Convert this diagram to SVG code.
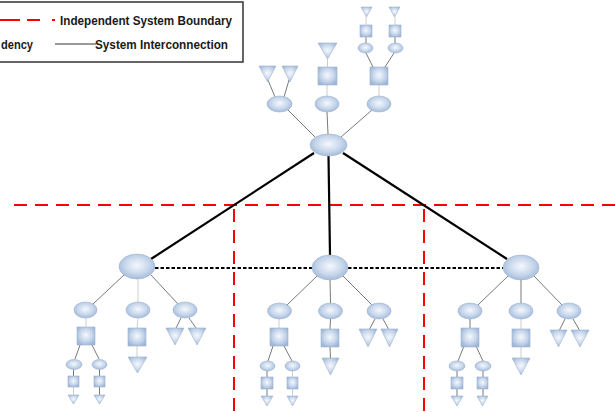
<svg xmlns="http://www.w3.org/2000/svg" width="615" height="412" viewBox="0 0 615 412">
<style>
.n{fill:url(#g);stroke:#9fb3cf;stroke-width:0.6}
.c{stroke:#6a6a6a;stroke-width:0.9;fill:none}
.cl{stroke:#c8c8c8;stroke-width:0.9;fill:none}
.thick{stroke:#000;stroke-width:2.2;fill:none}
.dot{stroke:#000;stroke-width:2.2;stroke-dasharray:3.5 2;fill:none}
.red{stroke:#ff0000;stroke-width:2;stroke-dasharray:13 8;fill:none}
.t{font-family:"Liberation Sans",Arial,sans-serif;font-weight:bold;font-size:12px;fill:#1a1a1a}
</style>
<defs>
<radialGradient id="g" cx="50%" cy="45%" r="60%">
<stop offset="0" stop-color="#f5f8fd"/>
<stop offset="0.55" stop-color="#c9d8ec"/>
<stop offset="1" stop-color="#9db5d7"/>
</radialGradient>
</defs>
<rect width="615" height="412" fill="#fff"/>

<g id="legend">
<rect x="-10" y="2" width="253" height="60" fill="#fff" stroke="#333" stroke-width="1.5"/>
<path d="M0 20H20M27 20H40M52 20H55" stroke="#ff0000" stroke-width="2" fill="none"/>
<text class="t" x="60" y="25" textLength="172" lengthAdjust="spacingAndGlyphs">Independent System Boundary</text>
<text class="t" x="1" y="49" textLength="32" lengthAdjust="spacingAndGlyphs">dency</text>
<line x1="55" y1="44" x2="96" y2="44" stroke="#333" stroke-width="1"/>
<text class="t" x="95" y="49" textLength="133" lengthAdjust="spacingAndGlyphs">System Interconnection</text>
</g>

<g id="boundaries">
<line class="red" x1="14" y1="205" x2="615" y2="205"/>
<line class="red" x1="234" y1="209" x2="234" y2="412"/>
<line class="red" x1="424" y1="209" x2="424" y2="412"/>
</g>

<g id="connectors">
<line class="thick" x1="314" y1="153" x2="151" y2="259"/>
<line class="thick" x1="328.5" y1="156" x2="330" y2="255"/>
<line class="thick" x1="343" y1="153" x2="507" y2="259"/>
<line class="dot" x1="155" y1="268" x2="312" y2="268"/>
<line class="dot" x1="348" y1="268" x2="503" y2="268"/>
<line class="c" x1="315" y1="137" x2="288" y2="110"/>
<line class="c" x1="328" y1="134" x2="327" y2="112"/>
<line class="c" x1="341" y1="137" x2="372" y2="110"/>
<line class="c" x1="275" y1="97" x2="268" y2="80"/>
<line class="c" x1="284" y1="97" x2="289" y2="80"/>
<line class="cl" x1="327" y1="96" x2="327" y2="85"/>
<line class="cl" x1="327.5" y1="67" x2="327.5" y2="59"/>
<line class="cl" x1="379" y1="96" x2="379" y2="85"/>
<line class="c" x1="373" y1="67" x2="366" y2="53"/>
<line class="c" x1="385" y1="67" x2="394" y2="53"/>
<line class="c" x1="366" y1="43" x2="366" y2="37"/>
<line class="c" x1="395" y1="43" x2="395" y2="37"/>
<line class="cl" x1="366" y1="25" x2="366" y2="17"/>
<line class="cl" x1="395" y1="25" x2="395" y2="17"/>
<line class="c" x1="124" y1="275" x2="93" y2="304"/>
<line class="cl" x1="138" y1="279" x2="138" y2="302"/>
<line class="c" x1="151" y1="275" x2="178" y2="304"/>
<line class="cl" x1="86" y1="318" x2="86" y2="327"/>
<line class="c" x1="80" y1="345" x2="75" y2="359"/>
<line class="c" x1="92" y1="345" x2="99" y2="359"/>
<line class="c" x1="73.5" y1="369" x2="73.5" y2="376"/>
<line class="c" x1="99.5" y1="369" x2="99.5" y2="376"/>
<line class="cl" x1="73.5" y1="387" x2="73.5" y2="395"/>
<line class="c" x1="99.5" y1="387" x2="99.5" y2="395"/>
<line class="cl" x1="138" y1="318" x2="137" y2="328"/>
<line class="cl" x1="137" y1="346" x2="137" y2="357"/>
<line class="c" x1="181" y1="318" x2="176" y2="328"/>
<line class="c" x1="189" y1="318" x2="196" y2="328"/>
<line class="c" x1="317" y1="276" x2="287" y2="305"/>
<line class="c" x1="330" y1="280" x2="330.5" y2="303"/>
<line class="c" x1="343" y1="276" x2="372" y2="305"/>
<line class="cl" x1="279" y1="319" x2="279" y2="328"/>
<line class="c" x1="273" y1="346" x2="268" y2="361"/>
<line class="c" x1="284" y1="346" x2="292" y2="361"/>
<line class="c" x1="267" y1="371" x2="267" y2="377"/>
<line class="cl" x1="292.5" y1="371" x2="292.5" y2="377"/>
<line class="c" x1="267" y1="389" x2="267" y2="396"/>
<line class="cl" x1="292.5" y1="389" x2="292.5" y2="396"/>
<line class="c" x1="330.5" y1="319" x2="330" y2="329"/>
<line class="c" x1="330" y1="347" x2="330.5" y2="358"/>
<line class="c" x1="375" y1="319" x2="369" y2="330"/>
<line class="c" x1="383" y1="319" x2="389" y2="330"/>
<line class="c" x1="508" y1="276" x2="478" y2="305"/>
<line class="c" x1="521" y1="280" x2="521" y2="303"/>
<line class="c" x1="534" y1="276" x2="562" y2="305"/>
<line class="c" x1="470" y1="319" x2="470" y2="328"/>
<line class="c" x1="464" y1="346" x2="458" y2="361"/>
<line class="c" x1="476" y1="346" x2="483" y2="361"/>
<line class="c" x1="457" y1="371" x2="457" y2="377"/>
<line class="c" x1="483" y1="371" x2="483" y2="377"/>
<line class="c" x1="457" y1="389" x2="457" y2="396"/>
<line class="c" x1="483" y1="389" x2="483" y2="396"/>
<line class="cl" x1="521" y1="319" x2="521" y2="329"/>
<line class="cl" x1="521" y1="347" x2="521" y2="358"/>
<line class="c" x1="565" y1="319" x2="559" y2="331"/>
<line class="c" x1="573" y1="319" x2="580" y2="331"/>
</g>

<g id="top-node"><ellipse class="n" cx="328.5" cy="145" rx="18.5" ry="11"/></g>

<g id="upper-left"><ellipse class="n" cx="279.5" cy="104" rx="12.5" ry="8"/></g>
<g id="upper-left-t1"><polygon class="n" points="259,66 276,66 267.5,82"/></g>
<g id="upper-left-t2"><polygon class="n" points="282,66 298,66 290,82"/></g>
<g id="upper-mid"><ellipse class="n" cx="327" cy="104" rx="12" ry="8"/></g>
<g id="upper-mid-sq"><rect class="n" x="318" y="67" width="19" height="18"/></g>
<g id="upper-mid-t"><polygon class="n" points="318,43 337,43 327.5,59"/></g>
<g id="upper-right"><ellipse class="n" cx="379" cy="104" rx="12" ry="8"/></g>
<g id="upper-right-sq"><rect class="n" x="370" y="67" width="18" height="18"/></g>
<g id="upper-right-e1"><ellipse class="n" cx="365.5" cy="48" rx="7.5" ry="5"/></g>
<g id="upper-right-e2"><ellipse class="n" cx="395.5" cy="48" rx="7.5" ry="5"/></g>
<g id="upper-right-s1"><rect class="n" x="360" y="25" width="12" height="12"/></g>
<g id="upper-right-s2"><rect class="n" x="389" y="25" width="12" height="12"/></g>
<g id="upper-right-t1"><polygon class="n" points="361,7 372,7 366.5,17"/></g>
<g id="upper-right-t2"><polygon class="n" points="389,7 400,7 394.5,17"/></g>

<g id="L"><ellipse class="n" cx="137" cy="266.5" rx="18" ry="12.5"/></g>
<g id="L1"><ellipse class="n" cx="85.5" cy="310" rx="11.5" ry="8"/></g>
<g id="L2"><ellipse class="n" cx="138" cy="310" rx="12" ry="8"/></g>
<g id="L3"><ellipse class="n" cx="185" cy="310" rx="12" ry="8"/></g>
<g id="L1-sq"><rect class="n" x="77" y="327" width="18" height="18"/></g>
<g id="L1-e1"><ellipse class="n" cx="74" cy="364.5" rx="8" ry="5"/></g>
<g id="L1-e2"><ellipse class="n" cx="99.5" cy="364.5" rx="7.5" ry="5"/></g>
<g id="L1-s1"><rect class="n" x="68" y="376" width="11" height="11"/></g>
<g id="L1-s2"><rect class="n" x="94" y="376" width="11" height="11"/></g>
<g id="L1-t1"><polygon class="n" points="68,395 79,395 73.5,404"/></g>
<g id="L1-t2"><polygon class="n" points="94,395 105,395 99.5,404"/></g>
<g id="L2-sq"><rect class="n" x="128" y="328" width="18" height="18"/></g>
<g id="L2-t"><polygon class="n" points="128,357 147,357 137.5,373"/></g>
<g id="L3-t1"><polygon class="n" points="166,328 184,328 175,345"/></g>
<g id="L3-t2"><polygon class="n" points="188,328 206,328 197,345"/></g>

<g id="M"><ellipse class="n" cx="330" cy="267.5" rx="18" ry="12.5"/></g>
<g id="M1"><ellipse class="n" cx="279.5" cy="311" rx="12" ry="8"/></g>
<g id="M2"><ellipse class="n" cx="330.5" cy="311" rx="12" ry="8"/></g>
<g id="M3"><ellipse class="n" cx="379" cy="311" rx="12" ry="8"/></g>
<g id="M1-sq"><rect class="n" x="270" y="328" width="18" height="18"/></g>
<g id="M1-e1"><ellipse class="n" cx="267.5" cy="366" rx="7.5" ry="5"/></g>
<g id="M1-e2"><ellipse class="n" cx="292.5" cy="366" rx="7.5" ry="5"/></g>
<g id="M1-s1"><rect class="n" x="261" y="377" width="12" height="12"/></g>
<g id="M1-s2"><rect class="n" x="287" y="377" width="11" height="12"/></g>
<g id="M1-t1"><polygon class="n" points="261,396 273,396 267,406"/></g>
<g id="M1-t2"><polygon class="n" points="287,396 298,396 292.5,406"/></g>
<g id="M2-sq"><rect class="n" x="321" y="329" width="18" height="18"/></g>
<g id="M2-t"><polygon class="n" points="322,358 339,358 330.5,375"/></g>
<g id="M3-t1"><polygon class="n" points="359,329 377,329 368,347"/></g>
<g id="M3-t2"><polygon class="n" points="381,329 398,329 389.5,347"/></g>

<g id="R"><ellipse class="n" cx="521" cy="267.5" rx="18" ry="12.5"/></g>
<g id="R1"><ellipse class="n" cx="470" cy="311" rx="12" ry="8"/></g>
<g id="R2"><ellipse class="n" cx="521" cy="311" rx="12" ry="8"/></g>
<g id="R3"><ellipse class="n" cx="569" cy="311" rx="12" ry="8"/></g>
<g id="R1-sq"><rect class="n" x="461" y="328" width="18" height="19"/></g>
<g id="R1-e1"><ellipse class="n" cx="457" cy="366" rx="8" ry="5"/></g>
<g id="R1-e2"><ellipse class="n" cx="483" cy="366" rx="8" ry="5"/></g>
<g id="R1-s1"><rect class="n" x="451" y="377" width="12" height="12"/></g>
<g id="R1-s2"><rect class="n" x="477" y="377" width="11" height="12"/></g>
<g id="R1-t1"><polygon class="n" points="451,396 463,396 457,406"/></g>
<g id="R1-t2"><polygon class="n" points="477,396 488,396 482.5,406"/></g>
<g id="R2-sq"><rect class="n" x="512" y="329" width="18" height="18"/></g>
<g id="R2-t"><polygon class="n" points="512,358 530,358 521,375"/></g>
<g id="R3-t1"><polygon class="n" points="550,330 567,330 558.5,347"/></g>
<g id="R3-t2"><polygon class="n" points="571,330 589,330 580,347"/></g>
</svg>
